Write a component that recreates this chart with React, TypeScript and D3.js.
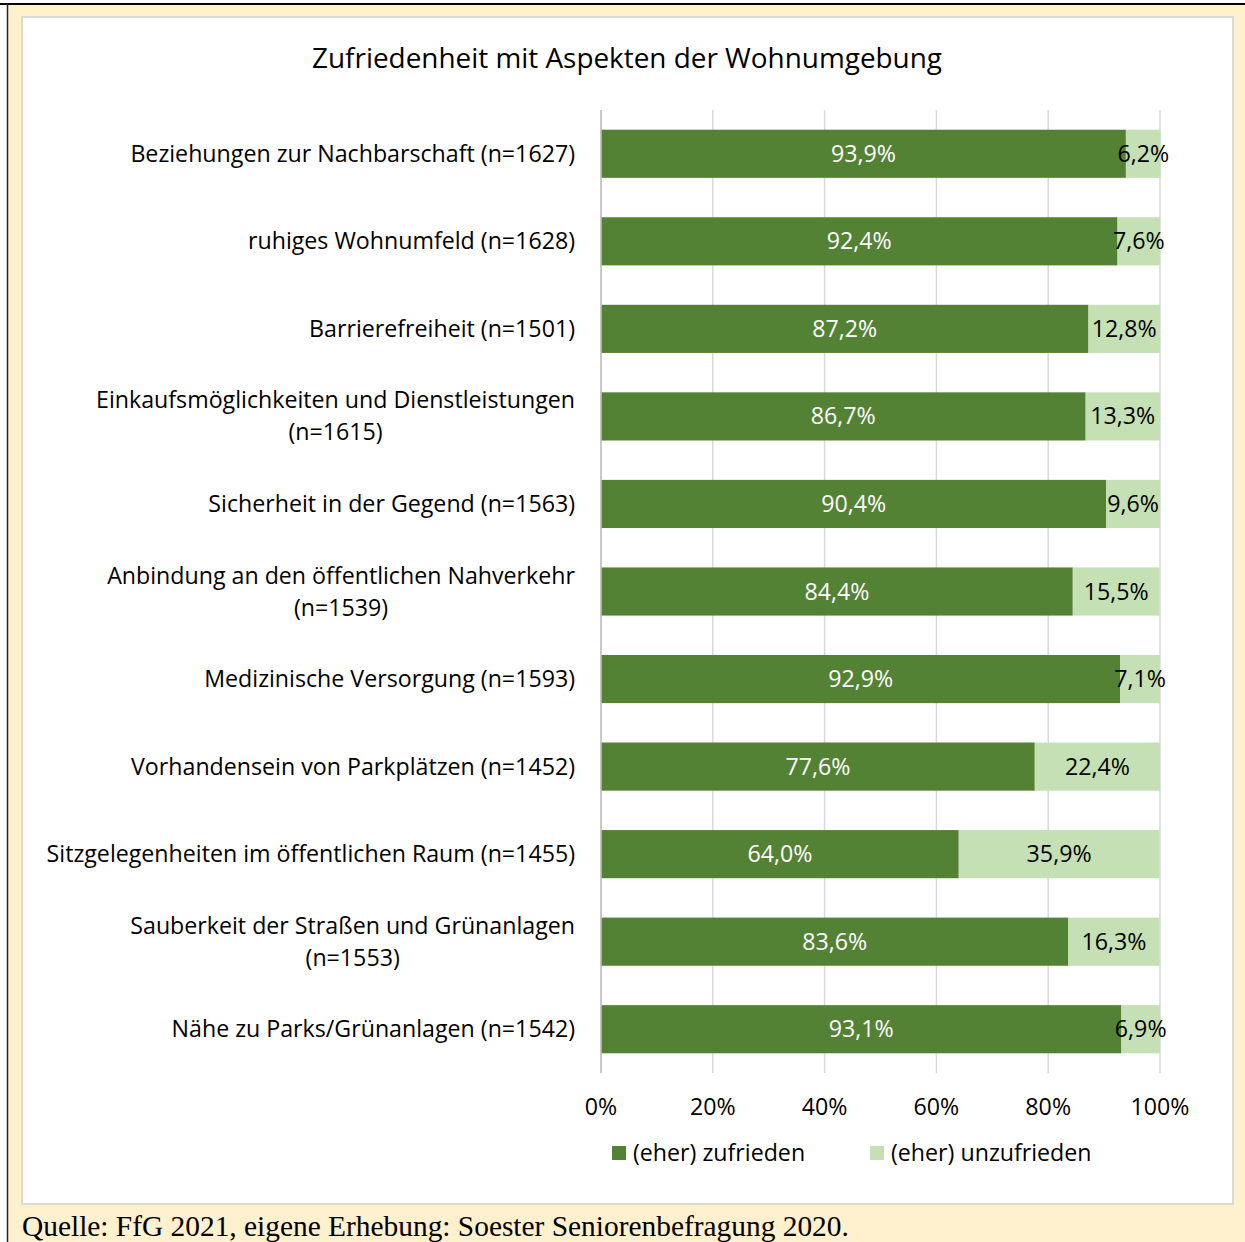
import React from "react";
import * as d3 from "d3";

const categories: string[][] = [
  ["Beziehungen zur Nachbarschaft (n=1627)"],
  ["ruhiges Wohnumfeld (n=1628)"],
  ["Barrierefreiheit (n=1501)"],
  ["Einkaufsmöglichkeiten und Dienstleistungen", "(n=1615)"],
  ["Sicherheit in der Gegend (n=1563)"],
  ["Anbindung an den öffentlichen Nahverkehr", "(n=1539)"],
  ["Medizinische Versorgung (n=1593)"],
  ["Vorhandensein von Parkplätzen (n=1452)"],
  ["Sitzgelegenheiten im öffentlichen Raum (n=1455)"],
  ["Sauberkeit der Straßen und Grünanlagen", "(n=1553)"],
  ["Nähe zu Parks/Grünanlagen (n=1542)"],
];
const zufrieden = [93.9, 92.4, 87.2, 86.7, 90.4, 84.4, 92.9, 77.6, 64.0, 83.6, 93.1];
const unzufrieden = [6.2, 7.6, 12.8, 13.3, 9.6, 15.5, 7.1, 22.4, 35.9, 16.3, 6.9];
const ticks = [0, 20, 40, 60, 80, 100];
const seriesNames = ["(eher) zufrieden", "(eher) unzufrieden"];

const W = 1245;
const H = 1242;
const DARK = "#548235";
const LIGHT = "#C5E0B4";
const FONT = "'Open Sans', sans-serif";
const FS = 23.2;
const DY = -1;

const fmt = (v: number) => v.toFixed(1).replace(".", ",") + "%";

export default function App() {
  const x = d3.scaleLinear().domain([0, 100]).range([601, 1160]);
  const idx = categories.map((_, i) => String(i));
  const y = d3.scaleBand().domain(idx).range([110, 1073]).paddingInner(0.45).paddingOuter(0.225);
  const bw = y.bandwidth();

  return (
    <svg width={W} height={H} style={{ position: "absolute", left: 0, top: 0 }} fontFamily={FONT}>
      <rect x={0} y={0} width={W} height={H} fill="#fff" />
      <rect x={8} y={5} width={W - 8} height={H - 5} fill="#FFF0CE" />
      <line x1={0} y1={4} x2={W} y2={4} stroke="#000" strokeWidth={2} />
      <line x1={7.5} y1={3} x2={7.5} y2={H} stroke="#222" strokeWidth={1.5} />
      <rect x={22} y={17} width={1211} height={1187} fill="#fff" stroke="#D9D9D9" strokeWidth={2} />

      <text x={627} y={57} textAnchor="middle" dominantBaseline="central" fontSize={27.9} fill="#000">
        Zufriedenheit mit Aspekten der Wohnumgebung
      </text>

      {ticks.map((t) => (
        <line key={"g" + t} x1={x(t)} x2={x(t)} y1={110} y2={1073} stroke="#D9D9D9" strokeWidth={1.5} />
      ))}

      {categories.map((lines, i) => {
        const y0 = y(String(i))!;
        const cy = y0 + bw / 2;
        const ty = cy + DY;
        const z = zufrieden[i];
        const u = unzufrieden[i];
        const lh = 32;
        return (
          <g key={i}>
            <rect x={x(0)} y={y0} width={x(z) - x(0)} height={bw} fill={DARK} />
            <rect x={x(z)} y={y0} width={x(z + u) - x(z)} height={bw} fill={LIGHT} />
            <text x={(x(0) + x(z)) / 2} y={ty} textAnchor="middle" dominantBaseline="central" fontSize={FS} fill="#fff">
              {fmt(z)}
            </text>
            <text x={(x(z) + x(z + u)) / 2} y={ty} textAnchor="middle" dominantBaseline="central" fontSize={FS} fill="#000">
              {fmt(u)}
            </text>
            {lines.length === 1 ? (
              <text x={575} y={ty} textAnchor="end" dominantBaseline="central" fontSize={FS} fill="#000">
                {lines[0]}
              </text>
            ) : (
              <g>
                {lines.map((l, k) => (
                  <text
                    key={k}
                    x={575}
                    y={ty + (k - (lines.length - 1) / 2) * lh}
                    textAnchor={k === 0 ? "end" : "middle"}
                    dominantBaseline="central"
                    fontSize={FS}
                    fill="#000"
                    ref={(el) => {
                      if (!el || k === 0) return;
                      const first = el.parentNode?.firstChild as SVGTextElement | null;
                      if (first && first.getComputedTextLength) {
                        const w = first.getComputedTextLength();
                        el.setAttribute("x", String(575 - w / 2));
                      }
                    }}
                  >
                    {l}
                  </text>
                ))}
              </g>
            )}
          </g>
        );
      })}
      <line x1={x(0)} x2={x(0)} y1={110} y2={1073} stroke="#BFBFBF" strokeWidth={1.5} />

      {ticks.map((t) => (
        <text key={"t" + t} x={x(t)} y={1106} textAnchor="middle" dominantBaseline="central" fontSize={FS} fill="#000">
          {t}%
        </text>
      ))}

      {seriesNames.map((s, i) => {
        const lx = i === 0 ? 612 : 870;
        return (
          <g key={s}>
            <rect x={lx} y={1146} width={14} height={14} fill={i === 0 ? DARK : LIGHT} />
            <text x={lx + 21} y={1152} dominantBaseline="central" fontSize={FS} fill="#000">
              {s}
            </text>
          </g>
        );
      })}

      <text x={22} y={1236} fontFamily="'Liberation Serif', 'Times New Roman', serif" fontSize={29.4} fill="#000">
        Quelle: FfG 2021, eigene Erhebung: Soester Seniorenbefragung 2020.
      </text>
    </svg>
  );
}
